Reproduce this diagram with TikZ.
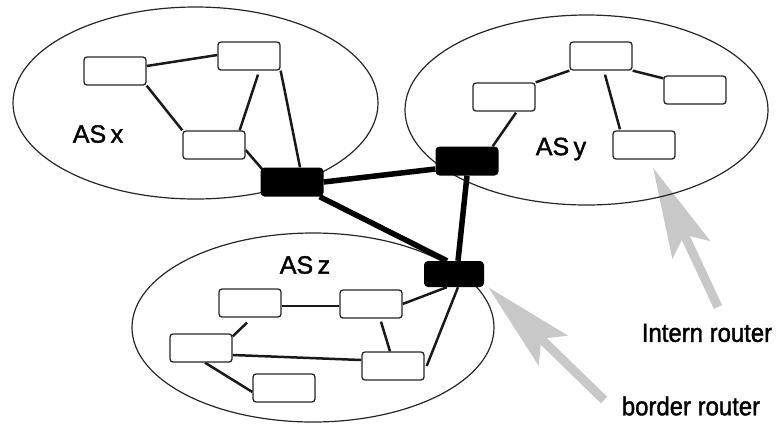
\documentclass[tikz,border=0pt]{standalone}
\usepackage{fontspec}
\setmainfont{Liberation Sans}
\newfontfamily\labelfont{Liberation Sans}[FakeBold=1.5]
\usetikzlibrary{arrows.meta,backgrounds}
\definecolor{arrowgray}{RGB}{200,200,200}
\tikzset{
  router/.style={draw=black!85, line width=1.3pt, fill=white, rounded corners=3pt,
    minimum width=62pt, minimum height=28pt, inner sep=0pt},
  border/.style={fill=black, rounded corners=4pt, minimum width=63pt,
    minimum height=29pt, inner sep=0pt},
  aslabel/.style={font=\labelfont\fontsize{25}{25}\selectfont, inner sep=0pt},
  note/.style={font=\labelfont\fontsize{26}{26}\selectfont, xscale=0.92, inner sep=0pt},
  link/.style={line width=2.5pt, black!90},
  backbone/.style={line width=5.5pt, black},
  asline/.style={line width=1.2pt, black!85},
  pointer/.style={arrowgray, line width=9pt,
    -{Stealth[length=90pt, width=41pt, inset=16pt]}}
}
\begin{document}
\begin{tikzpicture}[x=1pt, y=-1pt]
\useasboundingbox (0,0) rectangle (776,424);
% AS x routers
\node[router] (A1) at (115,71) {};
\node[router] (A2) at (249,56) {};
\node[router] (A3) at (214,145) {};
\node[border] (BX) at (292,182) {};
% AS y routers
\node[router] (B1) at (601,56) {};
\node[router] (B2) at (504,97) {};
\node[router] (B3) at (695,90) {};
\node[router] (B4) at (644,145) {};
\node[border] (BY) at (467,161) {};
% AS z routers
\node[router] (C1) at (250,303) {};
\node[router] (C2) at (371,304) {};
\node[router] (C3) at (201,348) {};
\node[router] (C4) at (393,366) {};
\node[router] (C5) at (284,388) {};
\node[border, minimum width=60pt, minimum height=26pt] (BZ) at (454,274) {};
% labels
\node[aslabel] (LX) at (98,134) {AS\hspace{0.18em}x};
\node[aslabel] (LY) at (561,149) {AS\hspace{0.18em}y};
\node[aslabel] (LZ) at (305,265) {AS\hspace{0.18em}z};
\node[note] (LI) at (707,333) {Intern router};
\node[note] (LB) at (691,406) {border router};
\coordinate (TI) at (718,307);
\coordinate (TB) at (604,400);
\begin{pgfonlayer}{background}
  % pointers (under the ellipses)
  \draw[pointer] (TI) -- ([xshift=9pt,yshift=-8pt]B4.south);
  \draw[pointer] (TB) -- ([xshift=4pt]BZ.south east);
  \draw[asline] (195.5,103) ellipse [x radius=182.5, y radius=96];
  \draw[asline] (586.5,110) ellipse [x radius=181.5, y radius=95];
  \draw[asline] (313,327.5) ellipse [x radius=181, y radius=94.5];
  % AS x links
  \draw[link] ([yshift=5pt]A1.east) -- ([yshift=1pt]A2.west);
  \draw[link] (A1.south east) -- (A3.north west);
  \draw[link] ([xshift=9pt,yshift=-4pt]A2.south) -- ([xshift=-6pt]A3.north east);
  \draw[link] (A2.south east) -- ([xshift=8pt]BX.north);
  \draw[link] ([yshift=-5pt]A3.east) -- ([xshift=2pt,yshift=-2pt]BX.north west);
  % AS y links
  \draw[link] (B2.north east) -- (B1.south west);
  \draw[link] (B1.south east) -- ([yshift=-3pt]B3.north west);
  \draw[link] ([xshift=4pt,yshift=-4pt]B1.south) -- ([xshift=-24pt,yshift=1pt]B4.north);
  \draw[link] ([xshift=12pt,yshift=-1pt]B2.south) -- ([xshift=-6pt]BY.north east);
  % AS z links
  \draw[link] ([yshift=-3pt]C1.east) -- ([yshift=-2pt]C2.west);
  \draw[link] ([xshift=-3pt,yshift=-5pt]C1.south) -- ([yshift=-3pt]C3.north east);
  \draw[link] ([yshift=-7pt]C3.east) -- ([yshift=6pt]C4.west);
  \draw[link] ([xshift=10pt,yshift=-3pt]C2.south) -- ([xshift=-3pt]C4.north);
  \draw[link] ([xshift=4pt]C3.south) -- ([yshift=-4pt]C5.west);
  \draw[link] (C2.east) -- ([xshift=23pt]BZ.south west);
  \draw[link] ([xshift=2pt]C4.east) -- ([xshift=4pt]BZ.south);
  % backbone
  \draw[backbone] (BX.east) -- ([yshift=-8pt]BY.west);
  \draw[backbone] ([xshift=-4pt]BX.south east) -- ([xshift=-7pt]BZ.north);
  \draw[backbone] (BY.south) -- ([xshift=4pt]BZ.north);
\end{pgfonlayer}
\end{tikzpicture}
\end{document}
